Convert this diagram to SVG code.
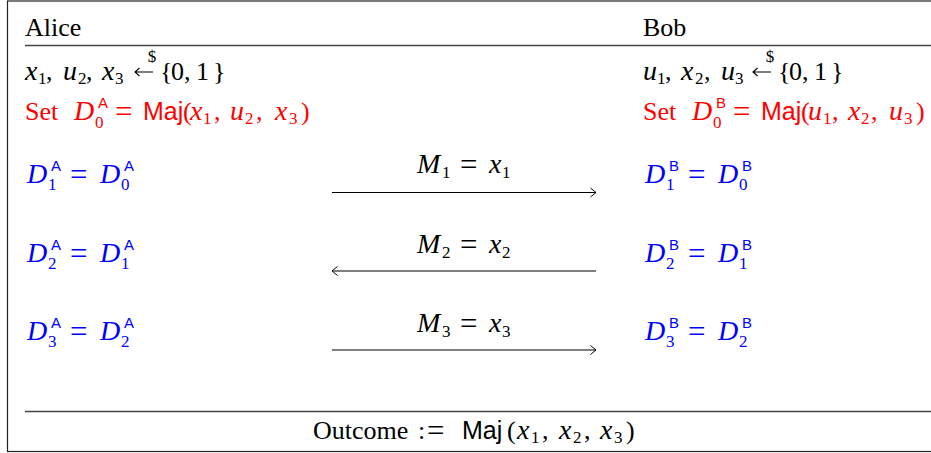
<svg xmlns="http://www.w3.org/2000/svg" width="931" height="453" viewBox="0 0 931 453">
<style>
.t{font-family:"Liberation Serif",serif;font-size:26px;fill:#000}
.v{font-style:italic;font-size:28px}
.s{font-size:17px}
.eq{font-size:31px}
.sup{font-family:"Liberation Sans",sans-serif;font-size:15px}
.maj{font-family:"Liberation Sans",sans-serif;font-size:25px}
.red{fill:#f00}
.blue{fill:#00f}
.rule{stroke:#444;stroke-width:1.3;fill:none}
.conn{stroke:#000;stroke-width:1.1;fill:none}
</style>
<defs>
<marker id="head" markerUnits="userSpaceOnUse" markerWidth="12" markerHeight="12" viewBox="0 0 12 12" refX="6.5" refY="6" orient="auto">
<path d="M1,1.5 L6.5,6 L1,10.5" fill="none" stroke="#000" stroke-width="1"/>
</marker>
</defs>
<rect x="7.5" y="1" width="930" height="450.5" fill="#fff" stroke="#222" stroke-width="1.2"/>
<g id="rules">
<line class="rule" x1="25" y1="45.5" x2="931" y2="45.5"/>
<line class="rule" x1="25" y1="411.5" x2="931" y2="411.5"/>
</g>
<g id="alice">
<text class="t" x="25" y="36">Alice</text>
<text class="t" y="80"><tspan class="v" x="25">x</tspan><tspan class="s" x="38" y="84">1</tspan><tspan x="46" y="80">,</tspan><tspan class="v" x="63">u</tspan><tspan class="s" x="78" y="84">2</tspan><tspan x="86" y="80">,</tspan><tspan class="v" x="102">x</tspan><tspan class="s" x="115" y="84">3</tspan><tspan x="160" y="80">{</tspan><tspan x="171">0</tspan><tspan x="184">,</tspan><tspan x="196">1</tspan><tspan x="213">}</tspan></text>
<path class="conn" d="M135,72 H153 M139.5,68 L135,72 L139.5,76"/>
<text class="t s" x="152" y="62" text-anchor="middle">$</text>
<text class="t red" y="120"><tspan x="25">Set</tspan><tspan class="v" x="74">D</tspan><tspan class="sup" x="98" y="108">A</tspan><tspan class="s" x="95" y="128">0</tspan><tspan class="eq" x="115" y="121.5">=</tspan><tspan class="maj" x="143" y="120">Maj</tspan><tspan x="183">(</tspan><tspan class="v" x="190">x</tspan><tspan class="s" x="203" y="124">1</tspan><tspan x="214" y="120">,</tspan><tspan class="v" x="230">u</tspan><tspan class="s" x="245" y="124">2</tspan><tspan x="256" y="120">,</tspan><tspan class="v" x="275">x</tspan><tspan class="s" x="289" y="124">3</tspan><tspan x="301" y="120">)</tspan></text>
<text class="t blue" y="183"><tspan class="v" x="27">D</tspan><tspan class="sup" x="51" y="171">A</tspan><tspan class="s" x="48" y="190">1</tspan><tspan class="eq" x="70" y="184.5">=</tspan><tspan class="v" x="100" y="183">D</tspan><tspan class="sup" x="124" y="171">A</tspan><tspan class="s" x="121" y="190">0</tspan></text>
<text class="t blue" y="262"><tspan class="v" x="27">D</tspan><tspan class="sup" x="51" y="250">A</tspan><tspan class="s" x="48" y="269">2</tspan><tspan class="eq" x="70" y="263.5">=</tspan><tspan class="v" x="100" y="262">D</tspan><tspan class="sup" x="124" y="250">A</tspan><tspan class="s" x="121" y="269">1</tspan></text>
<text class="t blue" y="340"><tspan class="v" x="27">D</tspan><tspan class="sup" x="51" y="328">A</tspan><tspan class="s" x="48" y="347">3</tspan><tspan class="eq" x="70" y="341.5">=</tspan><tspan class="v" x="100" y="340">D</tspan><tspan class="sup" x="124" y="328">A</tspan><tspan class="s" x="121" y="347">2</tspan></text>
</g>
<g id="bob" transform="translate(618,0)">
<text class="t" x="25" y="36">Bob</text>
<text class="t" y="80"><tspan class="v" x="25">u</tspan><tspan class="s" x="39" y="84">1</tspan><tspan x="47" y="80">,</tspan><tspan class="v" x="63">x</tspan><tspan class="s" x="77" y="84">2</tspan><tspan x="86" y="80">,</tspan><tspan class="v" x="103">u</tspan><tspan class="s" x="117" y="84">3</tspan><tspan x="160" y="80">{</tspan><tspan x="171">0</tspan><tspan x="184">,</tspan><tspan x="196">1</tspan><tspan x="213">}</tspan></text>
<path class="conn" d="M135,72 H153 M139.5,68 L135,72 L139.5,76"/>
<text class="t s" x="152" y="62" text-anchor="middle">$</text>
<text class="t red" y="120"><tspan x="25">Set</tspan><tspan class="v" x="74">D</tspan><tspan class="sup" x="98" y="108">B</tspan><tspan class="s" x="95" y="128">0</tspan><tspan class="eq" x="115" y="121.5">=</tspan><tspan class="maj" x="143" y="120">Maj</tspan><tspan x="183">(</tspan><tspan class="v" x="190">u</tspan><tspan class="s" x="205" y="124">1</tspan><tspan x="214" y="120">,</tspan><tspan class="v" x="230">x</tspan><tspan class="s" x="243" y="124">2</tspan><tspan x="253" y="120">,</tspan><tspan class="v" x="271">u</tspan><tspan class="s" x="286" y="124">3</tspan><tspan x="298" y="120">)</tspan></text>
<text class="t blue" y="183"><tspan class="v" x="27">D</tspan><tspan class="sup" x="51" y="171">B</tspan><tspan class="s" x="48" y="190">1</tspan><tspan class="eq" x="70" y="184.5">=</tspan><tspan class="v" x="100" y="183">D</tspan><tspan class="sup" x="124" y="171">B</tspan><tspan class="s" x="121" y="190">0</tspan></text>
<text class="t blue" y="262"><tspan class="v" x="27">D</tspan><tspan class="sup" x="51" y="250">B</tspan><tspan class="s" x="48" y="269">2</tspan><tspan class="eq" x="70" y="263.5">=</tspan><tspan class="v" x="100" y="262">D</tspan><tspan class="sup" x="124" y="250">B</tspan><tspan class="s" x="121" y="269">1</tspan></text>
<text class="t blue" y="340"><tspan class="v" x="27">D</tspan><tspan class="sup" x="51" y="328">B</tspan><tspan class="s" x="48" y="347">3</tspan><tspan class="eq" x="70" y="341.5">=</tspan><tspan class="v" x="100" y="340">D</tspan><tspan class="sup" x="124" y="328">B</tspan><tspan class="s" x="121" y="347">2</tspan></text>
</g>
<g id="messages">
<text class="t" y="173"><tspan class="v" x="417">M</tspan><tspan class="s" x="442" y="178">1</tspan><tspan class="eq" x="460" y="174.5">=</tspan><tspan class="v" x="489" y="173">x</tspan><tspan class="s" x="502" y="178">1</tspan></text>
<text class="t" y="253"><tspan class="v" x="417">M</tspan><tspan class="s" x="442" y="258">2</tspan><tspan class="eq" x="460" y="254.5">=</tspan><tspan class="v" x="489" y="253">x</tspan><tspan class="s" x="502" y="258">2</tspan></text>
<text class="t" y="332"><tspan class="v" x="417">M</tspan><tspan class="s" x="442" y="337">3</tspan><tspan class="eq" x="460" y="333.5">=</tspan><tspan class="v" x="489" y="332">x</tspan><tspan class="s" x="502" y="337">3</tspan></text>
</g>
<g id="connectors">
<line class="conn" x1="332" y1="192.5" x2="596" y2="192.5" marker-end="url(#head)"/>
<line class="conn" x1="596" y1="271" x2="332" y2="271" marker-end="url(#head)"/>
<line class="conn" x1="332" y1="350" x2="596" y2="350" marker-end="url(#head)"/>
</g>
<g id="outcome">
<text class="t" y="439"><tspan x="313">Outcome</tspan><tspan x="418">:</tspan><tspan class="eq" x="427" y="440.5">=</tspan><tspan class="maj" x="462" y="439">Maj</tspan><tspan x="507">(</tspan><tspan class="v" x="517">x</tspan><tspan class="s" x="531" y="443">1</tspan><tspan x="542" y="439">,</tspan><tspan class="v" x="559">x</tspan><tspan class="s" x="573" y="443">2</tspan><tspan x="584" y="439">,</tspan><tspan class="v" x="600">x</tspan><tspan class="s" x="614" y="443">3</tspan><tspan x="626" y="439">)</tspan></text>
</g>
</svg>
